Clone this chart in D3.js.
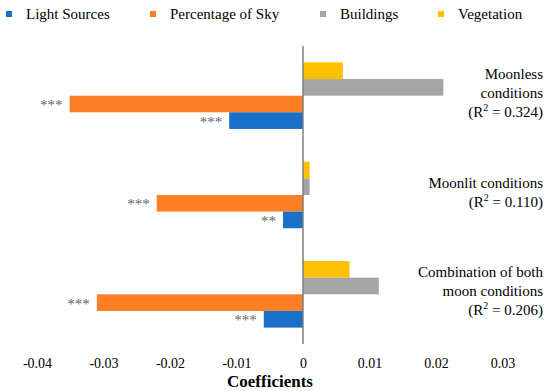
<!DOCTYPE html>
<html>
<head>
<meta charset="UTF-8">
<script src="https://d3js.org/d3.v7.min.js"></script>
<style>
  body { margin: 0; background: #fff; }
  svg { font-family: "Liberation Serif", "Times New Roman", serif; }
</style>
</head>
<body>
<svg width="550" height="391"></svg>
<script>
// data
const conditions = ["Moonless", "Moonlit", "Combination"];
const conditionLabels = [
  ["Moonless", "conditions", "R2|0.324"],
  ["Moonlit conditions", "R2|0.110"],
  ["Combination of both", "moon conditions", "R2|0.206"]
];
// top to bottom inside each group
const seriesNames = ["Vegetation", "Buildings", "Percentage of Sky", "Light Sources"];
const vegetation = [0.006, 0.001, 0.007];
const buildings = [0.0211, 0.001, 0.0114];
const skyPct = [-0.0351, -0.0220, -0.0310];
const lightSources = [-0.0111, -0.0030, -0.0059];
const skyStars = ["***", "***", "***"];
const lightStars = ["***", "**", "***"];
const ticks = [-0.04, -0.03, -0.02, -0.01, 0, 0.01, 0.02, 0.03];

const legendOrder = ["Light Sources", "Percentage of Sky", "Buildings", "Vegetation"];
const colors = {
  "Light Sources": "#1A70C8",
  "Percentage of Sky": "#FF7F27",
  "Buildings": "#A5A5A5",
  "Vegetation": "#FFC000"
};

const values = {
  "Vegetation": vegetation,
  "Buildings": buildings,
  "Percentage of Sky": skyPct,
  "Light Sources": lightSources
};
const stars = { "Percentage of Sky": skyStars, "Light Sources": lightStars };

const serif = "Liberation Serif, Times New Roman, serif";
const svg = d3.select("svg");

const x = d3.scaleLinear().domain([-0.04, 0.03]).range([37, 502.5]);
const y = d3.scaleBand().domain(conditions).range([46, 344]).paddingInner(0.33).paddingOuter(0.165);
const ySub = d3.scaleBand().domain(seriesNames).range([0, y.bandwidth()]);

// bars
const rows = [];
conditions.forEach((c, i) => {
  seriesNames.forEach(s => rows.push({ c, s, v: values[s][i], star: stars[s] ? stars[s][i] : null }));
});

svg.append("g").selectAll("rect")
  .data(rows)
  .join("rect")
  .attr("x", d => x(Math.min(0, d.v)))
  .attr("y", d => y(d.c) + ySub(d.s))
  .attr("width", d => Math.abs(x(d.v) - x(0)))
  .attr("height", ySub.bandwidth())
  .attr("fill", d => colors[d.s]);

// significance stars
svg.append("g").selectAll("text")
  .data(rows.filter(d => d.star))
  .join("text")
  .attr("x", d => x(d.v) - 7)
  .attr("y", d => y(d.c) + ySub(d.s) + ySub.bandwidth() / 2 + 6)
  .attr("text-anchor", "end")
  .attr("font-family", serif)
  .attr("font-size", 15)
  .attr("fill", "#666")
  .text(d => d.star);

// zero axis line
svg.append("line")
  .attr("x1", x(0)).attr("x2", x(0))
  .attr("y1", 46).attr("y2", 344)
  .attr("stroke", "#7f7f7f")
  .attr("stroke-width", 1.5);

// x tick labels
const xAxis = svg.append("g")
  .attr("transform", "translate(0,344)")
  .call(d3.axisBottom(x).tickValues(ticks).tickSize(0).tickPadding(14)
    .tickFormat(d => d === 0 ? "0" : String(d)));
xAxis.attr("font-family", serif);
xAxis.select(".domain").remove();
xAxis.selectAll("text")
  .attr("font-size", 14)
  .attr("fill", "#000");

svg.append("text")
  .attr("x", 270)
  .attr("y", 387)
  .attr("text-anchor", "middle")
  .attr("font-family", serif)
  .attr("font-size", 17)
  .attr("font-weight", "bold")
  .text("Coefficients");

// group labels on the right
conditions.forEach((c, i) => {
  const lines = conditionLabels[i];
  const cy = y(c) + y.bandwidth() / 2 - 3;
  const lh = 19;
  const top = cy - (lines.length - 1) * lh / 2;
  lines.forEach((ln, j) => {
    const t = svg.append("text")
      .attr("x", 543)
      .attr("y", top + j * lh + 5)
      .attr("text-anchor", "end")
      .attr("font-family", serif)
      .attr("font-size", 15);
    if (ln.startsWith("R2|")) {
      t.append("tspan").text("(R");
      t.append("tspan").attr("font-size", 10).attr("dy", -6).text("2");
      t.append("tspan").attr("dy", 6).text(" = " + ln.slice(3) + ")");
    } else {
      t.text(ln);
    }
  });
});

// legend
const legendX = [9, 153, 323, 441];
const legend = svg.append("g").selectAll("g")
  .data(legendOrder)
  .join("g")
  .attr("transform", (d, i) => `translate(${legendX[i]},14)`);
legend.append("rect")
  .attr("x", -3).attr("y", -3)
  .attr("width", 6).attr("height", 6)
  .attr("fill", d => colors[d]);
legend.append("text")
  .attr("x", 17)
  .attr("y", 5)
  .attr("font-family", serif)
  .attr("font-size", 15)
  .text(d => d);
</script>
</body>
</html>
